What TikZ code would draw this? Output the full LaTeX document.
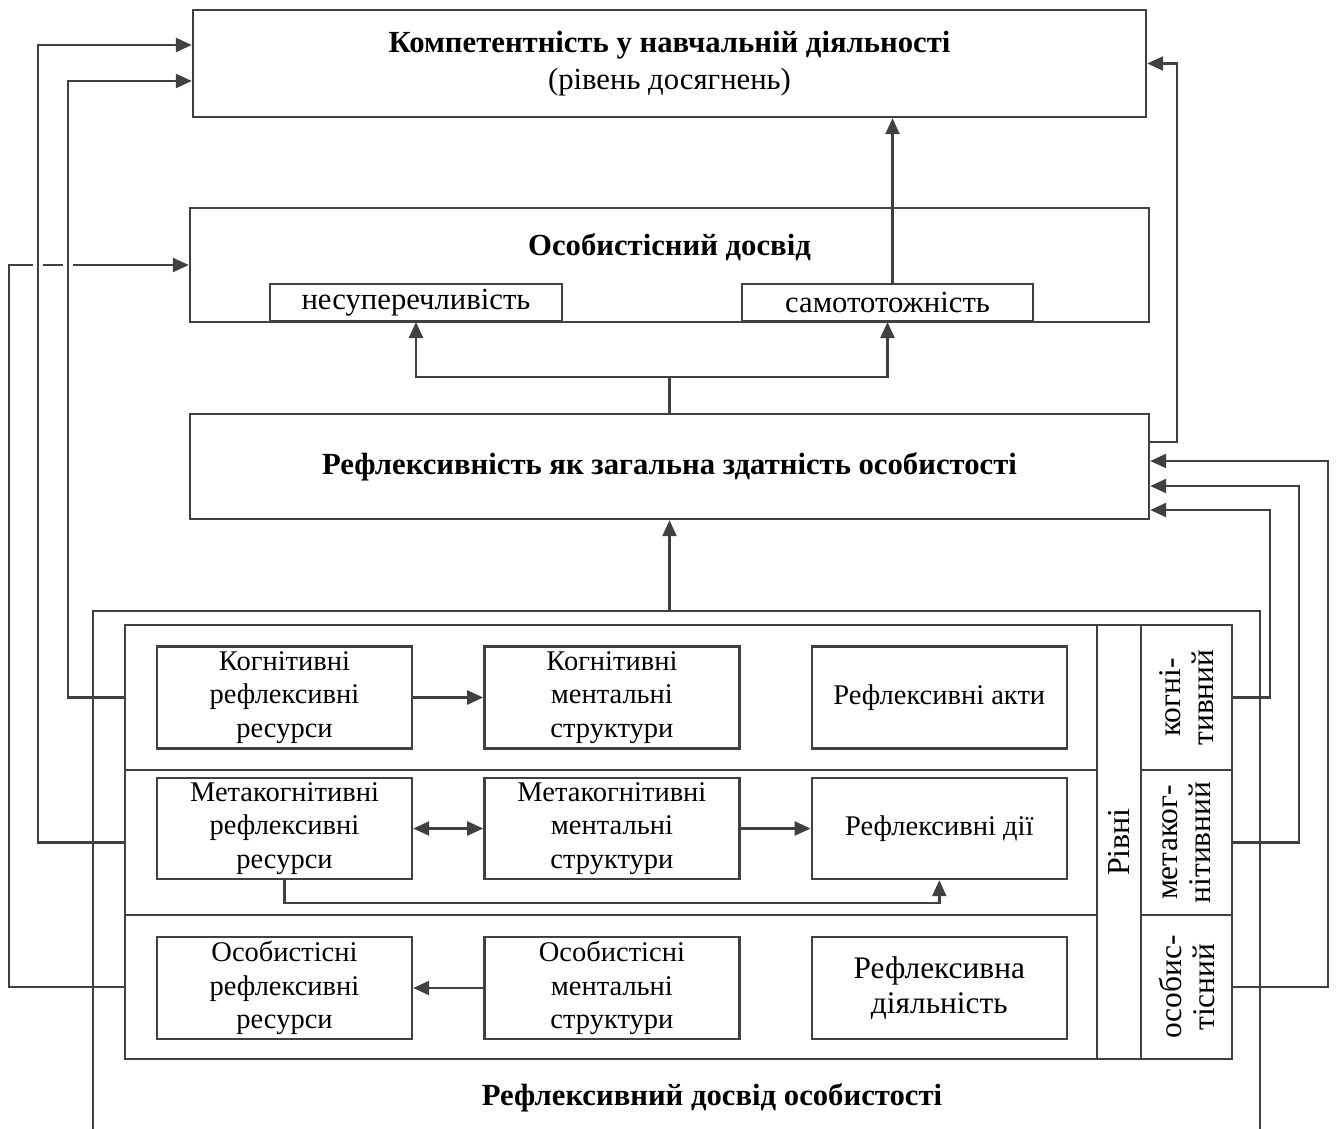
\documentclass[tikz,border=0pt]{standalone}
\usepackage{fontspec}
\setmainfont{Liberation Serif}
\usetikzlibrary{arrows.meta,positioning,backgrounds}
\definecolor{dgLine}{HTML}{404040}
\newcommand\dgfont{\fontsize{28.5}{33.5}\selectfont}
\newcommand\dgbig{\fontsize{30.7}{37}\selectfont}
\newcommand\dglvl{\fontsize{31.5}{33}\selectfont}
\tikzset{
  >={Triangle[length=16pt,width=14pt]},
  base/.style={draw=dgLine, line width=2.4pt, inner sep=0pt, align=center, font=\dgfont},
  bigbox/.style={base, font=\dgbig, minimum width=959pt},
  subbox/.style={base, minimum width=255pt, minimum height=102pt},
  tagbox/.style={base, font=\dgbig, minimum width=292pt, minimum height=37pt},
  rowbox/.style={base, minimum width=972pt, minimum height=145pt},
  lvlbox/.style={base, font=\dglvl, rotate=90, minimum width=145pt, minimum height=91pt},
  title/.style={font=\dgbig\bfseries, inner sep=0pt},
  link/.style={->, draw=dgLine, line width=2.4pt},
  gap/.style={preaction={draw=white, line width=10pt, -}}
}
\begin{document}
\begin{tikzpicture}[x=1pt, y=-1pt, node distance=70pt]
  \useasboundingbox (0,0) rectangle (1336,1128);
  \clip (0,0) rectangle (1336,1128);
  % upper boxes
  \node[bigbox, minimum width=953pt, minimum height=107pt] (comp) at (669.5,63.5)
    {\textbf{Компетентність у навчальній діяльності}\\(рівень досягнень)};
  \node[bigbox, minimum height=114pt] (pers) at (669.5,265) {};
  \node[title] (perst) at ([yshift=-40pt]pers.north) {Особистісний досвід};
  \node[tagbox, anchor=south] (cons) at (416,322) {несуперечливість};
  \node[tagbox, anchor=south, minimum width=291pt] (ident) at (887.5,322) {самототожність};
  \node[bigbox, minimum height=105pt] (refl) at (669.5,466.5)
    {\textbf{Рефлексивність як загальна здатність особистості}};
  % reflective experience
  \node[base, minimum width=1167pt, minimum height=560pt, anchor=north] (outer) at (676.5,610) {};
  \node[rowbox] (rowK) at (611,697.5) {};
  \node[rowbox] (rowM) at (611,842.5) {};
  \node[rowbox, minimum height=144pt] (rowO) at (611,987) {};
  \node[base, font=\fontsize{32}{36}\selectfont, rotate=90, minimum width=434pt, minimum height=44pt] (levels) at (1119,842) {Рівні};
  \node[lvlbox] (lvK) at (1186.5,697.5) {когні-\\тивний};
  \node[lvlbox] (lvM) at (1186.5,842.5) {метаког-\\нітивний};
  \node[lvlbox, minimum width=144pt] (lvO) at (1186.5,987) {особис-\\тісний};
  \node[subbox] (k1) at (284.5,697.5) {Когнітивні\\рефлексивні\\ресурси};
  \node[subbox, right=of k1] (k2) {Когнітивні\\ментальні\\структури};
  \node[subbox, right=of k2] (k3) {Рефлексивні акти};
  \node[subbox, minimum height=101pt] (m1) at (284.5,828.5) {Метакогнітивні\\рефлексивні\\ресурси};
  \node[subbox, minimum height=101pt, right=of m1] (m2) {Метакогнітивні\\ментальні\\структури};
  \node[subbox, minimum height=101pt, right=of m2] (m3) {Рефлексивні дії};
  \node[subbox] (o1) at (284.5,988) {Особистісні\\рефлексивні\\ресурси};
  \node[subbox, right=of o1] (o2) {Особистісні\\ментальні\\структури};
  \node[subbox, font=\fontsize{31.4}{35}\selectfont, right=of o2] (o3) {Рефлексивна\\діяльність};
  \node[title] (rexp) at (712,1098) {Рефлексивний досвід особистості};
  % inner links
  \draw[link] (refl.north) -- ++(0,-36) coordinate (fork) -| (cons.south);
  \draw[link] (fork) -| (ident.south);
  \draw[link] ([xshift=5pt]ident.north) -- ([xshift=5pt]ident.north |- comp.south);
  \draw[link] (refl.south |- outer.north) -- (refl.south);
  \draw[link] (k1) -- (k2);
  \draw[link, <->] (m1) -- (m2);
  \draw[link] (m2) -- (m3);
  \draw[link] (m1.south) -- ++(0,23) -| (m3.south);
  \draw[link] (o2) -- (o1);
  % feedback lines
  \begin{scope}[on background layer]
    \draw[link] (rowO.west) -- ++(-115,0) |- (pers.west);
    \draw[link, gap] (rowK.west) -- ++(-56,0) |- ([yshift=-17.5pt]comp.west);
    \draw[link, gap] (rowM.west) -- ++(-86,0) |- ([yshift=18.5pt]comp.west);
    \draw[link] ([yshift=24.5pt]refl.east) -- ++(27,0) |- (comp.east);
    \draw[link] (lvK.south) -- ++(37,0) |- ([yshift=-43.5pt]refl.east);
    \draw[link] (lvM.south) -- ++(66,0) |- ([yshift=-19.5pt]refl.east);
    \draw[link] (lvO.south) -- ++(95,0) |- ([yshift=5.5pt]refl.east);
  \end{scope}
\end{tikzpicture}
\end{document}
